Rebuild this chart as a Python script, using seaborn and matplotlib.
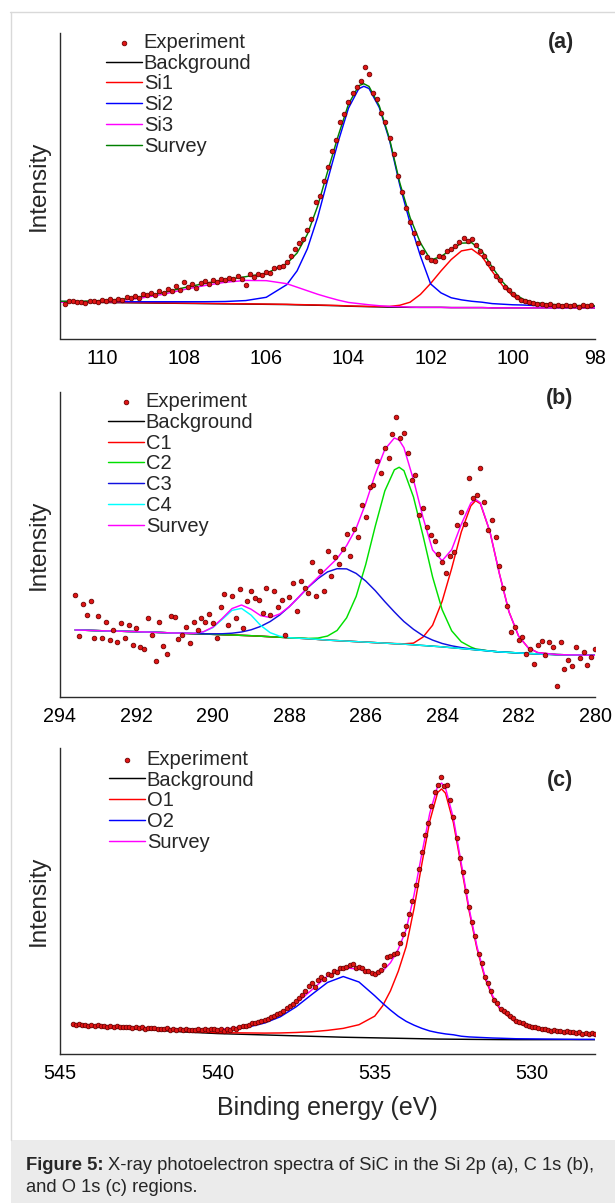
import numpy as np
import matplotlib
matplotlib.use("Agg")
import matplotlib.pyplot as plt
import seaborn as sns
from matplotlib.patches import Rectangle
from matplotlib.lines import Line2D

# ---------------- Panel (a): Si 2p ----------------
a_fit_ev = [111, 110.5, 110, 109.5, 109, 108.5, 108, 107.5, 107, 106.5, 106, 105.5, 105.25, 105,
            104.75, 104.5, 104.25, 104, 103.75, 103.625, 103.5, 103.25, 103, 102.75, 102.5, 102.25,
            102, 101.75, 101.5, 101.25, 101, 100.75, 100.5, 100.25, 100, 99.75, 99.5, 99, 98.5, 98]
a_background = [1.51, 1.50, 1.50, 1.49, 1.48, 1.47, 1.46, 1.45, 1.44, 1.43, 1.42, 1.41, 1.40, 1.39,
                1.38, 1.37, 1.36, 1.34, 1.33, 1.325, 1.32, 1.31, 1.30, 1.30, 1.29, 1.29, 1.29, 1.29,
                1.28, 1.28, 1.28, 1.28, 1.27, 1.27, 1.27, 1.27, 1.27, 1.27, 1.27, 1.27]
a_si1 = [1.52, 1.51, 1.51, 1.50, 1.49, 1.48, 1.47, 1.46, 1.45, 1.44, 1.43, 1.42, 1.41, 1.40, 1.39,
         1.38, 1.37, 1.35, 1.34, 1.335, 1.33, 1.33, 1.33, 1.38, 1.51, 1.84, 2.31, 2.84, 3.33, 3.70,
         3.78, 3.46, 2.82, 2.22, 1.77, 1.52, 1.40, 1.32, 1.30, 1.29]
a_si2 = [1.54, 1.53, 1.54, 1.53, 1.53, 1.53, 1.53, 1.53, 1.54, 1.58, 1.72, 2.26, 2.85, 3.79, 5.13,
         6.77, 8.36, 9.79, 10.62, 10.725, 10.63, 9.82, 8.42, 6.50, 4.89, 3.49, 2.29, 1.91, 1.70,
         1.61, 1.55, 1.51, 1.45, 1.425, 1.40, 1.39, 1.37, 1.355, 1.34, 1.33]
a_si3 = [1.51, 1.51, 1.53, 1.59, 1.70, 1.85, 2.05, 2.22, 2.36, 2.44, 2.43, 2.30, 2.15, 2.00, 1.85,
         1.72, 1.60, 1.50, 1.45, 1.425, 1.40, 1.36, 1.33, 1.32, 1.30, 1.29, 1.29, 1.29, 1.28, 1.28,
         1.28, 1.28, 1.27, 1.27, 1.27, 1.27, 1.27, 1.27, 1.27, 1.27]
a_survey = [1.55, 1.55, 1.58, 1.64, 1.76, 1.92, 2.13, 2.31, 2.47, 2.60, 2.74, 3.16, 3.61, 4.41, 5.61,
            7.13, 8.61, 9.96, 10.75, 10.835, 10.72, 9.89, 8.48, 6.60, 5.12, 4.05, 3.31, 3.46, 3.75,
            4.03, 4.05, 3.69, 3.00, 2.38, 1.90, 1.64, 1.50, 1.41, 1.37, 1.35]
a_exp_range = (110.9, 98.1)  # measured at 0.1 eV steps
a_experiment = [1.42, 1.58, 1.55, 1.50, 1.53, 1.47, 1.55, 1.58, 1.52, 1.60,
                1.57, 1.66, 1.58, 1.65, 1.62, 1.72, 1.68, 1.78, 1.70, 1.85,
                1.80, 1.90, 1.82, 1.98, 1.92, 2.08, 1.97, 2.20, 2.05, 2.38,
                2.15, 2.30, 2.10, 2.35, 2.40, 2.30, 2.45, 2.38, 2.50, 2.44,
                2.56, 2.48, 2.62, 2.52, 2.25, 2.70, 2.58, 2.72, 2.66, 2.80,
                2.76, 2.95, 3.02, 3.05, 3.22, 3.50, 3.78, 4.05, 4.22, 4.60,
                5.05, 5.80, 6.05, 6.70, 7.30, 7.95, 8.45, 9.20, 9.55, 10.05,
                10.45, 10.70, 10.95, 11.55, 11.25, 10.45, 10.20, 9.60, 9.20, 8.50,
                7.85, 6.90, 6.20, 5.55, 4.95, 4.45, 4.05, 3.65, 3.45, 3.30,
                3.28, 3.50, 3.45, 3.70, 3.78, 3.92, 4.10, 4.25, 4.12, 4.20,
                3.95, 3.70, 3.50, 3.20, 2.95, 2.62, 2.45, 2.15, 2.02, 1.85,
                1.74, 1.62, 1.58, 1.50, 1.46, 1.42, 1.45, 1.38, 1.42, 1.36,
                1.40, 1.34, 1.41, 1.35, 1.38, 1.31, 1.39, 1.33, 1.37]

# ---------------- Panel (b): C 1s ----------------
b_fit_ev = [293.6, 293, 292.5, 292, 291.5, 291, 290.5, 290.25, 290, 289.75, 289.5, 289.25, 289,
            288.75, 288.5, 288.25, 288, 287.75, 287.5, 287.25, 287, 286.75, 286.5, 286.25, 286,
            285.75, 285.5, 285.25, 285.125, 285, 284.75, 284.5, 284.25, 284, 283.75, 283.5, 283.25,
            283.125, 283, 282.75, 282.5, 282.25, 282, 281.75, 281.5, 281, 280.5, 280]
b_background = [1.95, 1.93, 1.915, 1.90, 1.88, 1.86, 1.84, 1.83, 1.82, 1.81, 1.80, 1.79, 1.78, 1.765,
                1.75, 1.735, 1.72, 1.705, 1.69, 1.67, 1.65, 1.635, 1.62, 1.605, 1.59, 1.575, 1.56,
                1.545, 1.54, 1.53, 1.51, 1.49, 1.47, 1.45, 1.425, 1.40, 1.375, 1.36, 1.35, 1.325,
                1.30, 1.285, 1.27, 1.255, 1.24, 1.22, 1.21, 1.20]
b_c1 = [1.95, 1.93, 1.915, 1.90, 1.88, 1.86, 1.84, 1.83, 1.82, 1.81, 1.80, 1.79, 1.78, 1.765, 1.75,
        1.735, 1.72, 1.705, 1.69, 1.67, 1.65, 1.635, 1.62, 1.605, 1.59, 1.575, 1.56, 1.545, 1.545,
        1.54, 1.56, 1.74, 2.09, 2.80, 3.775, 4.85, 5.625, 5.78, 5.69, 4.865, 3.61, 2.485, 1.77,
        1.425, 1.28, 1.22, 1.21, 1.20]
b_c2 = [1.95, 1.93, 1.915, 1.90, 1.88, 1.86, 1.84, 1.83, 1.82, 1.81, 1.80, 1.79, 1.78, 1.765, 1.75,
        1.735, 1.72, 1.71, 1.70, 1.71, 1.77, 1.935, 2.31, 2.945, 3.89, 5.025, 6.07, 6.695, 6.77,
        6.67, 5.89, 4.74, 3.52, 2.55, 1.925, 1.60, 1.445, 1.39, 1.37, 1.325, 1.30, 1.285, 1.27,
        1.255, 1.24, 1.22, 1.21, 1.20]
b_c3 = [1.95, 1.93, 1.915, 1.90, 1.88, 1.86, 1.843, 1.836, 1.834, 1.838, 1.854, 1.89, 1.955, 2.055,
        2.20, 2.395, 2.64, 2.925, 3.22, 3.47, 3.67, 3.765, 3.76, 3.625, 3.40, 3.115, 2.79, 2.485,
        2.34, 2.20, 1.97, 1.78, 1.65, 1.55, 1.481, 1.429, 1.389, 1.37, 1.356, 1.325, 1.30, 1.285,
        1.27, 1.255, 1.24, 1.22, 1.21, 1.20]
b_c4 = [1.95, 1.93, 1.915, 1.90, 1.88, 1.86, 1.85, 1.89, 2.02, 2.27, 2.53, 2.59, 2.39, 2.085, 1.87,
        1.765, 1.72, 1.705, 1.69, 1.67, 1.65, 1.635, 1.62, 1.605, 1.59, 1.575, 1.56, 1.545, 1.54,
        1.53, 1.51, 1.49, 1.47, 1.45, 1.425, 1.40, 1.375, 1.36, 1.35, 1.325, 1.30, 1.285, 1.27,
        1.255, 1.24, 1.22, 1.21, 1.20]
b_survey = [1.95, 1.93, 1.915, 1.90, 1.88, 1.86, 1.853, 1.896, 2.034, 2.298, 2.584, 2.69, 2.565,
            2.375, 2.32, 2.425, 2.64, 2.93, 3.232, 3.51, 3.79, 4.065, 4.45, 4.965, 5.70, 6.565,
            7.30, 7.638, 7.575, 7.35, 6.40, 5.28, 4.32, 4.00, 4.331, 5.079, 5.709, 5.82, 5.716,
            4.865, 3.61, 2.485, 1.77, 1.425, 1.28, 1.22, 1.21, 1.20]
b_exp_range = (293.6, 280.0)
b_experiment = [2.98, 1.76, 2.72, 2.40, 2.82, 1.72, 2.35, 1.70, 2.18, 1.65,
                1.95, 1.60, 2.15, 1.72, 2.10, 1.50, 2.02, 1.45, 1.38, 2.30,
                1.80, 1.02, 2.20, 1.48, 1.25, 2.35, 2.32, 1.68, 1.80, 2.05,
                1.55, 2.20, 1.95, 2.30, 2.18, 2.42, 2.15, 1.70, 2.62, 3.02,
                2.10, 2.95, 2.30, 3.15, 2.00, 2.82, 3.10, 2.90, 2.85, 2.45,
                3.20, 2.40, 3.10, 2.62, 2.85, 1.80, 2.92, 3.35, 2.50, 3.40,
                3.20, 3.05, 3.95, 2.95, 3.70, 3.10, 4.30, 3.55, 4.10, 3.90,
                4.35, 4.80, 4.15, 4.95, 4.70, 5.65, 5.30, 6.20, 6.25, 6.95,
                6.60, 7.35, 7.05, 7.75, 8.25, 7.65, 7.80, 7.20, 6.40, 6.55,
                5.35, 5.55, 5.00, 4.75, 4.60, 4.20, 3.95, 3.65, 4.15, 4.25,
                5.05, 5.45, 5.10, 6.45, 5.85, 5.95, 6.74, 5.75, 4.90, 5.20,
                4.70, 3.85, 3.20, 2.65, 1.90, 2.05, 1.65, 1.75, 1.25, 1.40,
                0.95, 1.50, 1.62, 1.20, 1.58, 1.45, 0.28, 1.60, 0.78, 1.05,
                0.88, 1.45, 1.12, 1.30, 0.90, 1.15, 1.40]

# ---------------- Panel (c): O 1s ----------------
c_fit_ev = [544.6, 544, 543, 542, 541, 540, 539.5, 539, 538.5, 538, 537.5, 537, 536.5, 536, 535.5,
            535, 534.75, 534.5, 534.25, 534, 533.75, 533.5, 533.25, 533, 532.875, 532.75, 532.5,
            532.25, 532, 531.75, 531.5, 531.25, 531, 530.5, 530, 529.5, 529, 528.5, 528]
c_background = [0.90, 0.87, 0.81, 0.75, 0.69, 0.64, 0.625, 0.61, 0.595, 0.58, 0.565, 0.55, 0.535,
                0.52, 0.51, 0.50, 0.495, 0.49, 0.485, 0.48, 0.475, 0.47, 0.465, 0.46, 0.459, 0.458,
                0.455, 0.453, 0.45, 0.448, 0.446, 0.444, 0.442, 0.44, 0.44, 0.44, 0.44, 0.44, 0.44]
c_o1 = [0.91, 0.882, 0.825, 0.77, 0.715, 0.67, 0.665, 0.66, 0.655, 0.66, 0.675, 0.70, 0.745, 0.81,
        0.93, 1.21, 1.545, 2.04, 2.685, 3.49, 4.745, 6.21, 7.605, 8.54, 8.659, 8.518, 7.555, 6.123,
        4.66, 3.418, 2.466, 1.824, 1.402, 0.99, 0.81, 0.71, 0.65, 0.61, 0.575]
c_o2 = [0.92, 0.895, 0.84, 0.79, 0.75, 0.74, 0.775, 0.86, 0.985, 1.19, 1.515, 1.92, 2.315, 2.51,
        2.33, 1.88, 1.635, 1.41, 1.205, 1.04, 0.915, 0.81, 0.725, 0.67, 0.649, 0.628, 0.60, 0.553,
        0.53, 0.518, 0.506, 0.494, 0.487, 0.47, 0.465, 0.46, 0.455, 0.45, 0.45]
c_survey = [0.93, 0.907, 0.855, 0.81, 0.775, 0.77, 0.815, 0.91, 1.045, 1.27, 1.625, 2.07, 2.525,
            2.80, 2.75, 2.59, 2.685, 2.96, 3.405, 4.05, 5.185, 6.55, 7.865, 8.75, 8.85, 8.688,
            7.70, 6.223, 4.74, 3.488, 2.526, 1.874, 1.447, 1.02, 0.835, 0.73, 0.665, 0.62, 0.585]
c_exp_range = (544.6, 528.0)
c_experiment = [0.95, 0.93, 0.94, 0.91, 0.92, 0.90, 0.93, 0.89, 0.91, 0.88,
                0.90, 0.87, 0.88, 0.86, 0.89, 0.85, 0.86, 0.84, 0.87, 0.83,
                0.85, 0.82, 0.84, 0.80, 0.83, 0.81, 0.82, 0.79, 0.80, 0.78,
                0.81, 0.77, 0.79, 0.76, 0.78, 0.76, 0.79, 0.75, 0.77, 0.75,
                0.78, 0.76, 0.79, 0.75, 0.78, 0.80, 0.76, 0.79, 0.74, 0.80,
                0.76, 0.82, 0.80, 0.87, 0.88, 0.90, 0.93, 0.97, 0.98, 1.02,
                1.05, 1.09, 1.12, 1.18, 1.20, 1.27, 1.33, 1.38, 1.47, 1.55,
                1.62, 1.72, 1.80, 1.90, 2.05, 2.20, 2.30, 2.15, 2.38, 2.50,
                2.42, 2.58, 2.55, 2.70, 2.66, 2.78, 2.78, 2.82, 2.90, 2.92,
                2.80, 2.82, 2.78, 2.70, 2.68, 2.62, 2.60, 2.66, 2.72, 2.88,
                3.15, 3.18, 3.25, 3.28, 3.60, 3.90, 4.15, 4.55, 5.00, 5.50,
                6.05, 6.60, 7.15, 7.55, 8.10, 8.55, 8.78, 9.05, 8.75, 8.80,
                8.30, 7.75, 7.05, 6.40, 5.95, 5.30, 4.78, 4.30, 3.85, 3.25,
                2.95, 2.50, 2.30, 2.05, 1.75, 1.65, 1.45, 1.38, 1.33, 1.22,
                1.15, 1.05, 1.02, 0.98, 0.93, 0.90, 0.86, 0.85, 0.82, 0.80,
                0.78, 0.76, 0.72, 0.76, 0.71, 0.73, 0.69, 0.72, 0.68, 0.70,
                0.66, 0.69, 0.64, 0.67, 0.62, 0.65, 0.61]

# ---------------- style ----------------
sns.set_theme(style="white")
plt.rcParams["font.family"] = ["Liberation Sans", "DejaVu Sans"]
plt.rcParams["axes.edgecolor"] = "#2b2b2b"
plt.rcParams["axes.linewidth"] = 1.0

W, H = 615, 1203
fig = plt.figure(figsize=(W / 100, H / 100), dpi=100)
fig.patch.set_facecolor("white")


def rect(l, t, r, b):
    return [l / W, 1 - b / H, (r - l) / W, (b - t) / H]


DOT_FACE = "#e01515"
DOT_EDGE = "#6e0000"


def draw_panel(ax, fit_x, curves, exp_range, exp_y, xlim, xmaj, xmin, ymaj, ymin, ytop,
               tag, tag_xy, leg_anchor):
    for name, vals, color in curves:
        sns.lineplot(x=fit_x, y=vals, ax=ax, color=color, lw=1.05, sort=False,
                     estimator=None, label=name, zorder=2)
    exp_x = np.linspace(exp_range[0], exp_range[1], len(exp_y))
    sns.scatterplot(x=exp_x, y=exp_y, ax=ax, s=11, color=DOT_FACE, edgecolor=DOT_EDGE,
                    linewidth=0.6, label="Experiment", zorder=4)
    ax.set_xlim(*xlim)
    ax.set_ylim(-0.03 * ytop / 10, ytop)
    ax.set_xticks(xmaj)
    ax.set_xticks(xmin, minor=True)
    ax.set_xticklabels([f"{v:g}" for v in xmaj])
    ax.set_yticks(ymaj)
    ax.set_yticks(ymin, minor=True)
    ax.tick_params(axis="x", which="major", direction="out", length=3.2, width=1.0,
                   labelsize=14.2, pad=4.0, colors="#2b2b2b", labelcolor="black")
    ax.tick_params(axis="x", which="minor", direction="out", length=2.2, width=1.0,
                   colors="#2b2b2b")
    ax.tick_params(axis="y", which="major", direction="in", length=3.2, width=1.0,
                   labelleft=False, colors="#2b2b2b")
    ax.tick_params(axis="y", which="minor", direction="in", length=2.2, width=1.0,
                   colors="#2b2b2b")
    sns.despine(ax=ax)
    ax.set_ylabel("Intensity", fontsize=17.5, va="center")
    ax.yaxis.set_label_coords(-0.039, 0.5)
    ax.set_xlabel("")
    ax.text(tag_xy[0], tag_xy[1], tag, transform=ax.transAxes, ha="center", va="center",
            fontsize=15.5, fontweight="bold")
    h, l = ax.get_legend_handles_labels()
    order = [l.index("Experiment")] + [i for i in range(len(l)) if l[i] != "Experiment"]
    ax.legend([h[i] for i in order], [l[i] for i in order], loc="upper left",
              bbox_to_anchor=leg_anchor, frameon=False, fontsize=14.5, handlelength=1.78,
              handletextpad=0.1, labelspacing=0.085, borderpad=0, borderaxespad=0,
              scatterpoints=1)


ax_a = fig.add_axes(rect(60, 33, 595, 338.5))
draw_panel(ax_a, a_fit_ev,
           [("Background", a_background, "black"), ("Si1", a_si1, "#ff0000"),
            ("Si2", a_si2, "#0000ff"), ("Si3", a_si3, "#ff00ff"), ("Survey", a_survey, "#008000")],
           a_exp_range, a_experiment, (111.02, 98.0),
           list(range(110, 97, -2)), list(range(111, 98, -2)),
           list(range(1, 14, 2)), list(range(2, 13, 2)), 13,
           "(a)", (0.936, 0.970), (0.086, 1.0))

ax_b = fig.add_axes(rect(60, 392, 595, 696.7))
draw_panel(ax_b, b_fit_ev,
           [("Background", b_background, "black"), ("C1", b_c1, "#ff0000"),
            ("C2", b_c2, "#00e000"), ("C3", b_c3, "#1010e0"), ("C4", b_c4, "#00ffff"),
            ("Survey", b_survey, "#ff00ff")],
           b_exp_range, b_experiment, (294, 280),
           list(range(294, 279, -2)), list(range(293, 280, -2)),
           list(range(1, 10, 2)), list(range(2, 9, 2)), 9,
           "(b)", (0.934, 0.980), (0.0897, 0.999))

ax_c = fig.add_axes(rect(60, 748, 595, 1054))
draw_panel(ax_c, c_fit_ev,
           [("Background", c_background, "black"), ("O1", c_o1, "#ff0000"),
            ("O2", c_o2, "#0000ff"), ("Survey", c_survey, "#ff00ff")],
           c_exp_range, c_experiment, (545, 528),
           [545, 540, 535, 530], [542.5, 537.5, 532.5],
           list(range(2, 11, 2)), list(range(1, 10, 2)), 10,
           "(c)", (0.934, 0.895), (0.0916, 0.994))
ax_c.set_xlabel("Binding energy (eV)", fontsize=18, va="center")
ax_c.xaxis.set_label_coords(0.5, -0.176)

# frame and caption box
fig.add_artist(Line2D([10 / W, 1], [1 - 12 / H, 1 - 12 / H], transform=fig.transFigure,
                      color="#d9d9d9", lw=1.0))
fig.add_artist(Line2D([11 / W, 11 / W], [63 / H, 1 - 12 / H], transform=fig.transFigure,
                      color="#d9d9d9", lw=1.0))
fig.add_artist(Rectangle((11 / W, 0), 1 - 11 / W, 63 / H, transform=fig.transFigure,
                         facecolor="#ebebeb", edgecolor="none", zorder=0))

CAP = 13.2
t1 = fig.text(26 / W, (1203 - 1165) / H, "Figure 5:", fontsize=CAP, fontweight="bold",
              ha="left", va="center")
fig.canvas.draw()
bb = t1.get_window_extent(renderer=fig.canvas.get_renderer())
fig.text((bb.x1 + 4) / W, (1203 - 1165) / H,
         "X-ray photoelectron spectra of SiC in the Si 2p (a), C 1s (b),",
         fontsize=CAP, ha="left", va="center")
fig.text(26 / W, (1203 - 1188) / H, "and O 1s (c) regions.", fontsize=CAP,
         ha="left", va="center")

fig.savefig("out.png", dpi=100, facecolor="white")
